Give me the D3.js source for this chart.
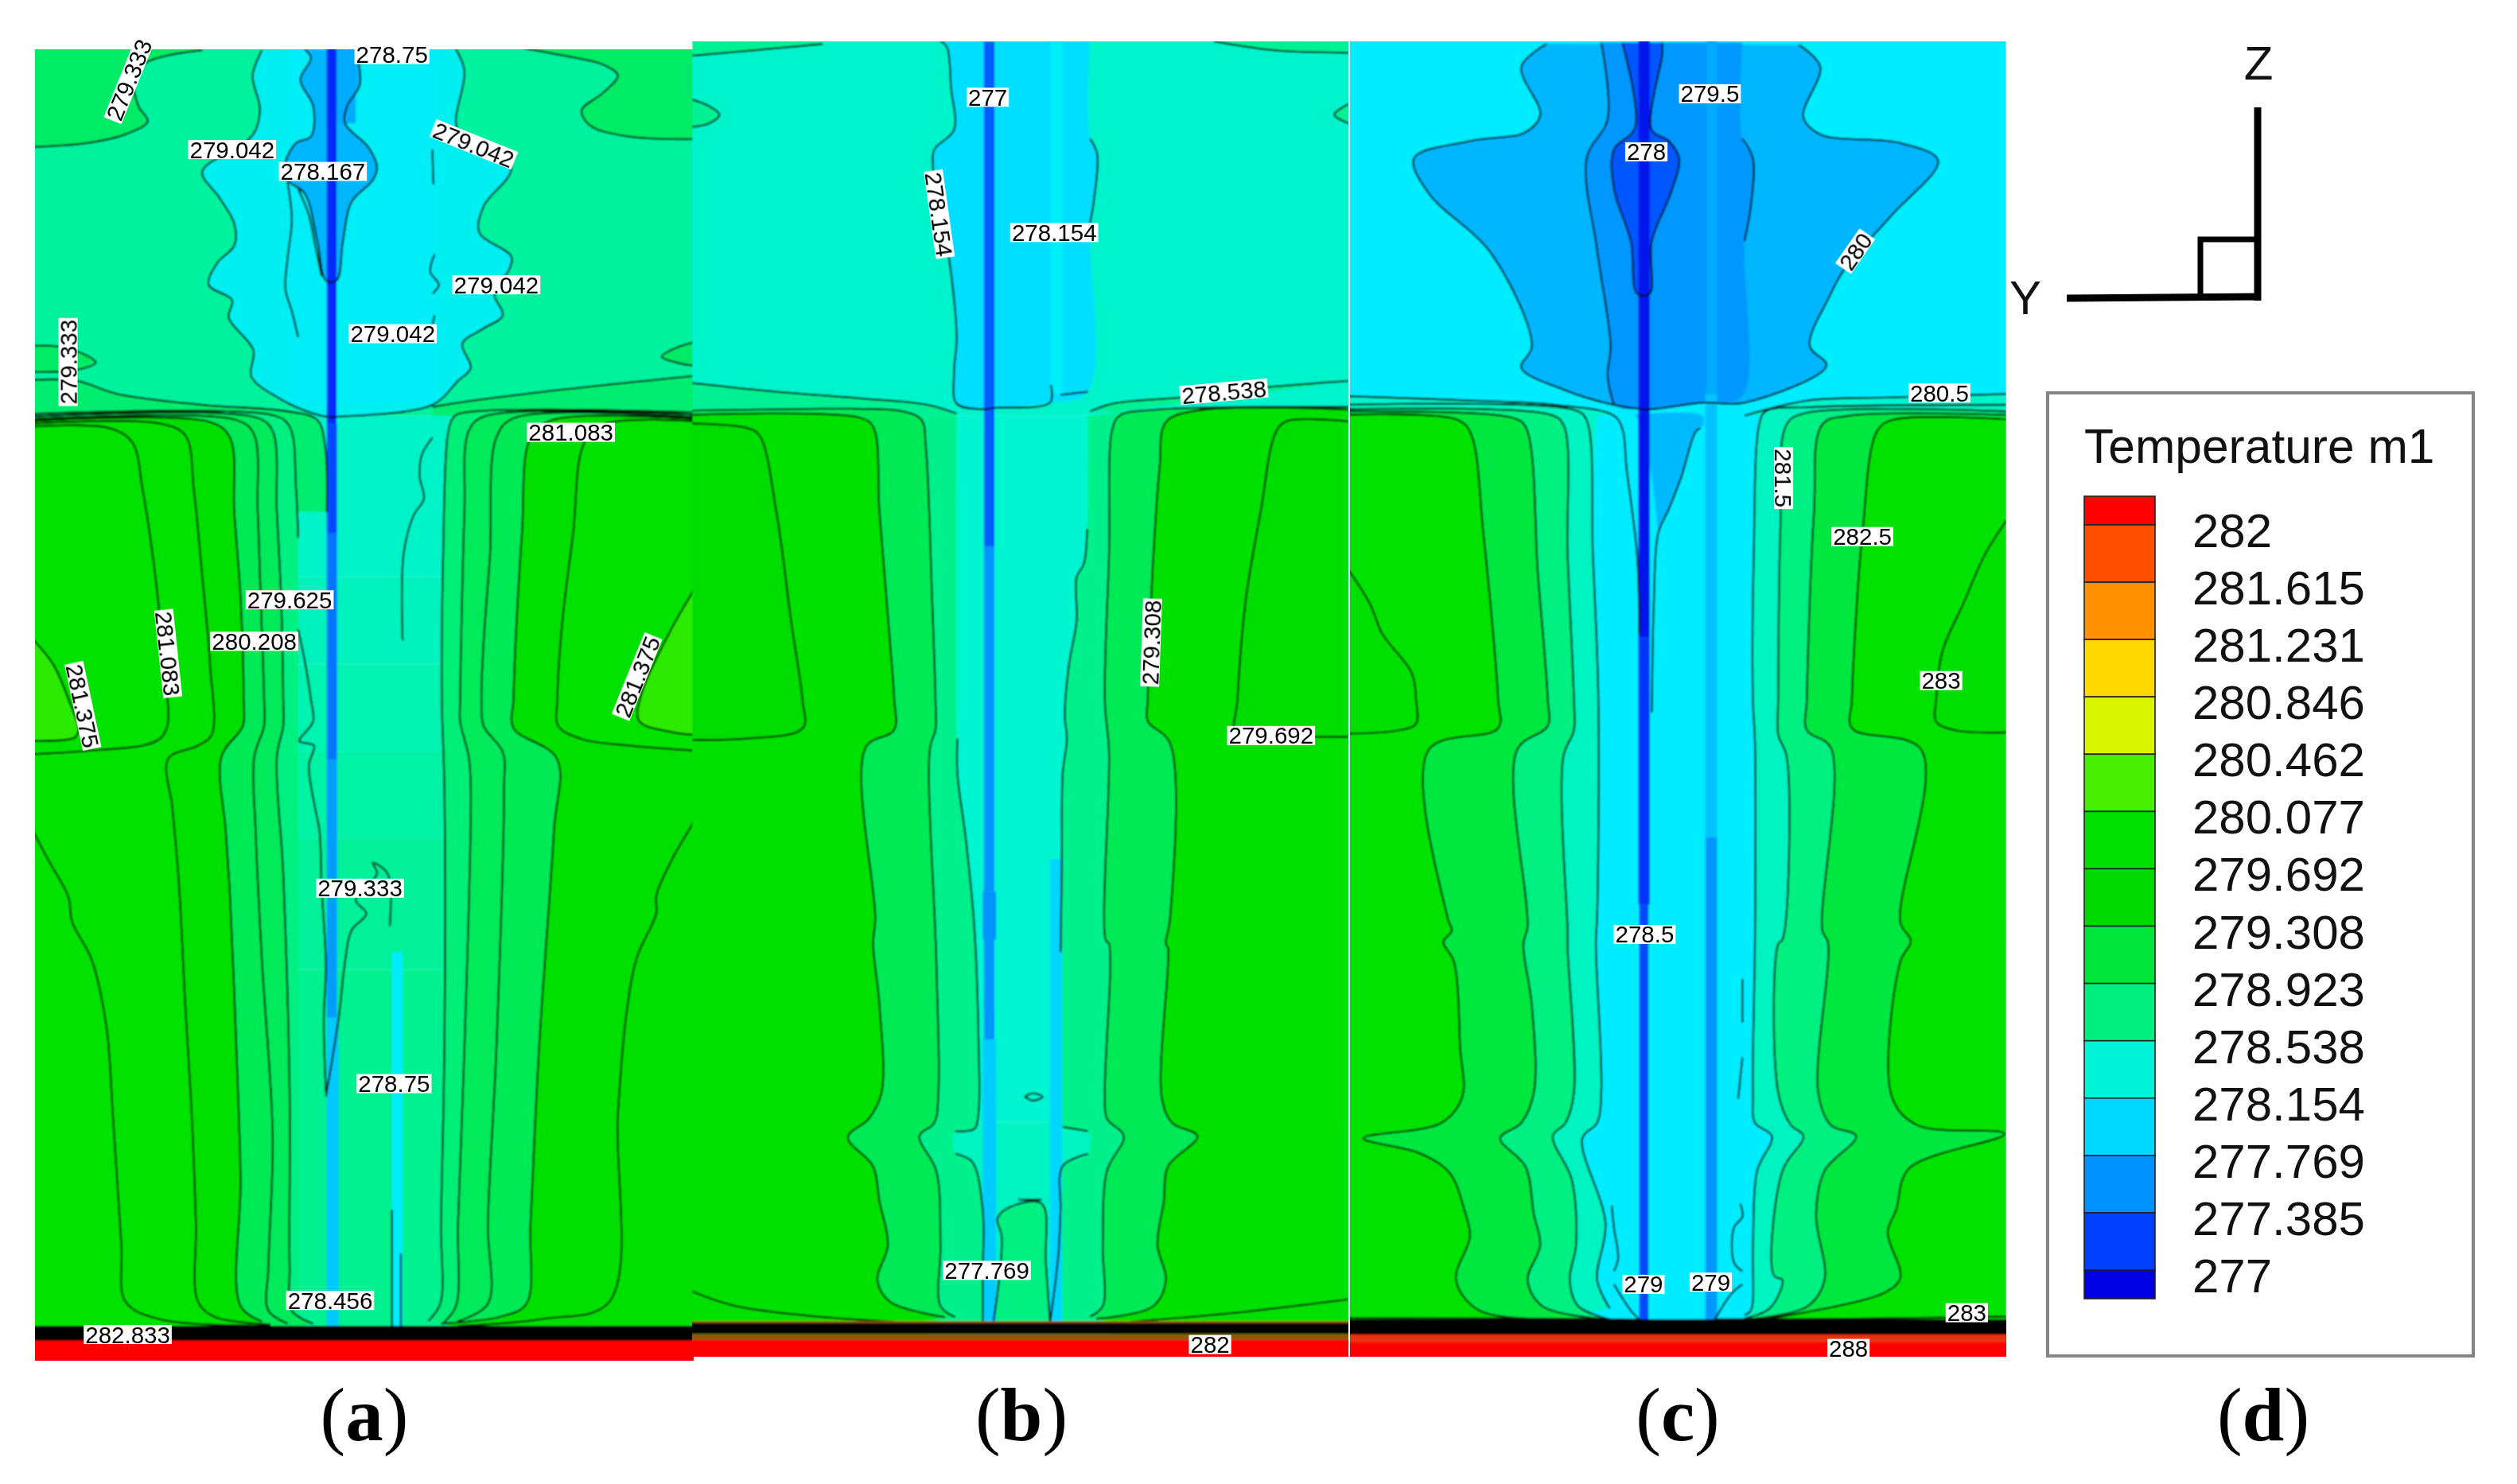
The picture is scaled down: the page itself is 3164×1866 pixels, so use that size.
<!DOCTYPE html>
<html><head><meta charset="utf-8">
<style>html,body{margin:0;padding:0;background:#fff}svg{display:block}</style>
<script src="https://cdn.jsdelivr.net/npm/d3@7"></script></head><body>
<svg id="c" width="3164" height="1866"></svg>
<script>
// ---------- legend ----------
const legendTitle = "Temperature m1";
const legendLevels = ["282","281.615","281.231","280.846","280.462","280.077","279.692","279.308","278.923","278.538","278.154","277.769","277.385","277"];
const swatchColors = ["#ff0000","#ff5000","#ff9000","#ffd800","#d8f400","#48f000","#00e000","#00da00","#00e63c","#00f080","#00f5d8","#00d8ff","#0090ff","#0040ff","#0000e4"];
const tempStops  = [276.9,277.19,277.58,277.96,278.12,278.35,278.73,279.12,279.5,279.88,280.27,280.65,281.04,281.42,281.81,282.1];
const tempColors = ["#0000e4","#0040ff","#0090ff","#00d8ff","#00ecff","#00f5d8","#00f080","#00e63c","#00dc00","#00e300","#48f000","#d8f400","#ffd800","#ff9000","#ff5000","#ff0000"];
const panelCaptions = ["a","b","c","d"];

// ---------- panel (a) : isotherms, in sample coordinates (y, z) ----------
const aTopLeft=[[400,42],[270,70],[240,110],[250,170],[272,205],[220,235],[130,255],[0,264]];
const aTopRight=[[1155,38],[1250,55],[1340,75],[1375,100],[1340,140],[1290,180],[1310,215],[1400,240],[1560,246]];
const aLobeL=[[0,720],[80,724],[150,758],[105,775],[0,780]];
const aLobeR=[[1560,710],[1510,725],[1478,745],[1520,760],[1560,766]];
const aBandL=[[0,798],[105,800],[200,830],[400,855],[600,870],[670,890],[688,950],[692,1100]];
const aBandR=[[1560,788],[1200,825],[1000,850],[940,860]];
const aCore=[[540,42],[518,100],[535,175],[525,225],[500,255],[400,320],[440,380],[475,440],[475,490],[435,530],[415,580],[470,615],[462,655],[520,730],[515,790],[580,840],[640,868],[690,882],[720,882],[940,855],[1000,800],[1030,770],[1010,715],[1060,680],[1105,650],[1085,600],[1120,545],[1125,515],[1050,460],[1060,400],[1125,310],[1000,225],[995,200],[1015,90],[995,40]];
const aBlob=[[640,40],[655,60],[630,110],[660,170],[655,240],[620,255],[595,300],[600,340],[640,370],[670,480],[690,570],[715,570],[730,480],[750,390],[800,340],[810,310],[790,265],[735,210],[740,170],[770,120],[760,40]];
const aW1=[[625,360],[650,420],[665,490],[680,560]];
const aW2=[[600,345],[610,430],[600,520],[595,590],[610,640],[625,700]];
const aW3=[[940,270],[942,350]];
const aW4=[[945,510],[935,550],[955,580],[940,600]];
const aW5=[[945,650],[938,680]];
const aL1=[[0,905],[180,908],[235,940],[260,1050],[290,1250],[310,1450],[318,1591],[300,1621],[260,1636],[130,1648],[0,1656]];
const aL2=[[0,898],[300,898],[360,925],[380,1050],[400,1250],[418,1450],[422,1611],[390,1636],[320,1666],[330,1781],[345,1951],[360,2231],[375,2481],[385,2731],[390,2911],[430,2946],[560,2963]];
const aL3=[[0,892],[420,895],[465,930],[475,1100],[490,1300],[497,1531],[495,1591],[445,1661],[455,1831],[465,1981],[480,2331],[490,2631],[490,2921],[540,2956]];
const aL4=[[0,888],[480,890],[520,920],[530,1100],[537,1300],[545,1531],[545,1591],[522,1661],[525,1831],[540,2131],[565,2531],[555,2831],[555,2931],[600,2961]];
const aL5=[[0,882],[530,885],[565,915],[575,1100],[585,1300],[590,1531],[590,1591],[575,1661],[590,1931],[605,2431],[605,2831],[610,2931],[660,2961]];
const aL6=[[0,876],[570,880],[605,905],[620,1050],[625,1160]];
const aLW=[[625,1370],[640,1440],[655,1531],[660,1581],[628,1626],[662,1636],[650,1681],[665,1781],[675,1831],[680,1961],[690,2141],[685,2261],[690,2431]];
const aRa=[[1560,893],[1340,900],[1295,945],[1270,1150],[1245,1350],[1233,1531],[1235,1591],[1290,1621],[1400,1636],[1560,1648]];
const aRb=[[1560,888],[1220,890],[1170,930],[1150,1150],[1135,1400],[1130,1531],[1130,1596],[1232,1666],[1225,1831],[1190,2331],[1170,2731],[1160,2916],[1100,2945],[960,2961]];
const aRc=[[1560,884],[1130,886],[1090,930],[1075,1200],[1060,1400],[1055,1531],[1060,1591],[1105,1651],[1108,1731],[1090,2331],[1070,2731],[1070,2916],[1000,2955]];
const aRd=[[1560,878],[1060,882],[1025,915],[1015,1100],[1005,1531],[1005,1581],[1025,1661],[1030,1731],[1015,2331],[1000,2731],[995,2921],[965,2960]];
const aRe=[[1560,872],[1000,876],[985,890],[975,930],[965,1200],[962,1531],[968,1731],[968,2331],[960,2731],[958,2916],[930,2955]];
const aRW=[[940,930],[915,970],[910,1020],[920,1070],[895,1110],[872,1200],[870,1395]];
const aLf=[[0,1826],[40,1901],[85,1981],[95,2041],[140,2126],[175,2281],[190,2481],[210,2781],[220,2911],[300,2951],[560,2966]];
const aRf=[[1560,1801],[1500,1901],[1465,1981],[1465,2021],[1420,2121],[1395,2251],[1375,2481],[1355,2911],[1200,2950],[1000,2966]];
const aLobeSL=[[0,1390],[50,1450],[90,1540],[110,1600],[100,1618],[0,1625]];
const aLobeSR=[[1560,1270],[1500,1370],[1430,1520],[1425,1580],[1500,1605],[1560,1612]];
const aPeak=[[840,2050],[835,1930],[800,1905],[810,1930],[760,1990],[785,2021],[750,2060],[735,2130],[720,2260],[690,2440]];
const aStub=[[845,2700],[845,3000]];
const aStub2=[[866,2800],[866,3000]];
const aBlocks=[
 {t:278.6,y:[0,1568],z:[30,880]},{t:278.42,y:[0,1568],z:[880,1250]},{t:278.47,y:[0,1568],z:[1250,1450]},{t:278.52,y:[0,1568],z:[1450,1650]},{t:278.57,y:[0,1568],z:[1650,1850]},{t:278.62,y:[0,1568],z:[1850,2150]},{t:278.66,y:[0,1568],z:[2150,3060]}];
const aRegions=[
 {t:278.88,p:aTopLeft,c:[[0,30],[400,30]]},{t:278.88,p:aTopRight,c:[[1560,30],[1155,30]]},
 {t:278.88,p:aLobeL,c:[]},{t:278.88,p:aLobeR,c:[]},
 {t:278.82,p:aBandL,c:[[692,1100],[0,1100]]},{t:278.82,p:aBandR,c:[[940,880],[1560,880]]},
 {t:278.2,p:aCore,c:[]},
 {t:278.72,p:aL6,c:[[625,3060],[0,3060]]},
 {t:278.78,p:aRe,c:[[1560,3060]]},
 {t:278.95,p:aL5,c:[[0,3060]]},{t:278.98,p:aL4,c:[[0,3060]]},{t:279.7,p:aL3,c:[[0,3060]]},{t:279.88,p:aL2,c:[[0,3060]]},
 {t:278.95,p:aRd,c:[[1560,3060]]},{t:278.98,p:aRc,c:[[1560,3060]]},{t:279.7,p:aRb,c:[[1560,3060]]},
 {t:279.82,p:aL1,c:[]},{t:279.88,p:aRa,c:[]},
 {t:280.12,p:aLobeSL,c:[]},{t:280.12,p:aLobeSR,c:[]},
];
const aCoreBlocks=[{t:278.16,y:[600,950],z:[30,850]}];
const aStems=[
 {t:277.72,y:[690,760],z:[30,210]},
 {t:277.1,y:[692,715],z:[30,900]},{t:277.25,y:[692,716],z:[900,1150]},{t:277.45,y:[692,716],z:[1150,1668]},
 {t:277.65,y:[692,716],z:[1668,2260]},{t:277.88,y:[692,720],z:[2260,2980]},{t:278.12,y:[845,870],z:[2110,2980]}];
const aLines=[aTopLeft,aTopRight,aLobeL,aLobeR,aBandL,aBandR,aCore,aBlob,aW1,aW2,aW3,aW4,aW5,aL1,aL2,aL3,aL4,aL5,aL6,aLW,aRa,aRb,aRc,aRd,aRe,aRW,aLf,aRf,aLobeSL,aLobeSR,aPeak,aStub,aStub2];
const aFloor=[{t:"dense",z:[2966,3002]},{t:282.1,z:[3000,3060]}];
const aTags=[["279.333",228,110,-68],["278.75",845,52,0],["279.042",470,270,0],["278.167",683,320,0],["279.042",1037,258,22],["279.042",1090,580,0],["279.042",847,692,0],["279.333",85,757,-90],["281.083",1265,918,0],["279.625",605,1302,0],["280.208",522,1397,0],["281.083",320,1425,84],["281.375",120,1545,78],["281.375",1420,1478,-68],["279.333",770,1963,0],["278.75",850,2411,0],["278.456",700,2908,0],["282.833",225,2986,0]];

// ---------- panel (b) ----------
const bCornL=[[310,28],[150,42],[0,55]];
const bCornR=[[1240,22],[1380,42],[1560,48]];
const bLobeL=[[0,155],[40,170],[65,190],[40,210],[0,218]];
const bLobeR=[[1560,165],[1525,190],[1560,210]];
const bBandL=[[0,805],[200,825],[400,840],[560,855],[628,875]];
const bBandR=[[945,870],[1000,852],[1160,838],[1360,815],[1560,800]];
const bFar=[[590,22],[605,35],[615,130],[622,225],[575,270],[572,310],[590,430],[610,520],[628,700],[622,780],[628,852],[690,865],[720,862],[850,850],[852,810]];
const bFar2=[[875,832],[940,825]];
const bFar3=[[945,245],[962,280],[955,380],[945,440]];
const bFarFill=[[590,22],[605,35],[615,130],[622,225],[575,270],[572,310],[590,430],[610,520],[628,700],[622,780],[628,852],[690,865],[720,862],[850,850],[940,825],[945,440],[955,380],[962,280],[945,245],[945,22]];
const bA=[[0,898],[130,908],[160,925],[200,1100],[235,1350],[262,1531],[263,1596],[130,1620],[0,1623]];
const bB=[[0,878],[400,885],[430,905],[445,1100],[470,1400],[480,1531],[480,1600],[412,1641],[435,2031],[430,2091],[445,2231],[450,2431],[420,2491],[370,2534],[430,2601],[445,2681],[465,2781],[440,2861],[470,2911],[600,2946]];
const bC=[[0,868],[310,864],[375,864],[500,870],[545,890],[555,950],[570,1300],[578,1531],[578,1600],[565,1641],[580,2131],[585,2431],[575,2501],[540,2531],[580,2611],[590,2781],[590,2921],[625,2946]];
const bW1=[[630,1620],[630,1700],[650,1850],[670,2050],[680,2300],[680,2480],[670,2515],[625,2520]];
const bW2=[[625,2572],[665,2590],[690,2700],[690,2850],[690,2960]];
const bFlankL=[[628,880],[628,1620],[630,1700],[650,1850],[670,2050],[680,2300],[680,2480],[670,2515],[625,2520],[625,2572],[665,2590],[690,2700],[690,3050]];
const bRa=[[1560,893],[1410,893],[1385,920],[1350,1100],[1315,1300],[1295,1531],[1293,1611],[1430,1616],[1560,1616]];
const bRb=[[1560,866],[1200,868],[1125,895],[1110,1000],[1090,1300],[1082,1531],[1082,1580],[1135,1631],[1135,2031],[1125,2091],[1130,2100],[1115,2441],[1140,2501],[1200,2531],[1130,2601],[1120,2681],[1105,2781],[1125,2861],[1095,2921],[960,2950]];
const bRc=[[1560,860],[1100,866],[1015,880],[998,910],[990,1200],[980,1531],[990,1651],[982,2081],[990,2091],[980,2431],[985,2491],[1025,2531],[985,2611],[975,2781],[975,2921],[945,2945]];
const bRd=[[938,1140],[930,1220],[913,1250],[913,1350],[895,1450],[885,1568],[890,1620],[880,1700],[878,1900],[875,2110]];
const bRd2=[[880,2510],[940,2520]];
const bRd3=[[940,2572],[880,2600],[875,2700],[870,2800],[850,2960]];
const bFlankR=[[940,880],[938,1140],[930,1220],[913,1250],[913,1350],[895,1450],[885,1568],[890,1620],[880,1700],[878,1900],[875,2110],[880,2510],[940,2520],[940,2572],[880,2600],[875,2700],[870,2800],[850,3050]];
const bArch=[[715,2960],[730,2850],[735,2760],[725,2721],[750,2696],[830,2686],[840,2820],[850,2960]];
const bDash=[[775,2677],[830,2677]];
const bEgg=[[790,2441],[810,2433],[832,2441],[810,2450],[790,2441]];
const bFloorL=[[0,2887],[100,2920],[300,2945],[560,2960]];
const bFloorR=[[1560,2905],[1300,2935],[1000,2960]];
const bBlocks=[{t:278.4,y:[0,1568],z:[20,880]},{t:278.38,y:[0,1568],z:[880,2500]},{t:278.45,y:[0,1568],z:[2500,3050]}];
const bRegions=[
 {t:278.65,p:bCornL,c:[[0,20],[310,20]]},{t:278.65,p:bCornR,c:[[1560,20],[1240,20]]},
 {t:278.65,p:bLobeL,c:[]},{t:278.65,p:bLobeR,c:[]},
 {t:278.02,p:bFarFill,c:[]},
 {t:278.65,p:bBandL,c:[[628,880],[0,880]]},{t:278.65,p:bBandR,c:[[945,880],[1560,880]]},
 {t:278.68,p:bFlankL,c:[[0,3050],[0,880]]},
 {t:278.68,p:bFlankR,c:[[1560,3050],[1560,880]]},
 {t:278.72,p:bArch,c:[]},
 {t:278.98,p:bC,c:[[0,3050]]},{t:278.98,p:bRc,c:[[1560,3050]]},
 {t:279.75,p:bB,c:[[0,3050]]},{t:279.75,p:bRb,c:[[1560,3050]]},
 {t:279.55,p:bA,c:[]},{t:279.55,p:bRa,c:[]},
 {t:279.78,p:bFloorL,c:[[560,3050],[0,3050]]},{t:279.78,p:bFloorR,c:[[1000,3050],[1560,3050]]},
];
const bStems=[
 {t:278.15,y:[850,880],z:[20,830]},
 {t:277.32,y:[693,718],z:[22,1180]},{t:277.6,y:[693,718],z:[1180,1970]},{t:277.6,y:[690,722],z:[1970,2080]},{t:277.6,y:[693,718],z:[2080,2310]},
 {t:277.9,y:[690,722],z:[2310,2968]},{t:277.95,y:[850,878],z:[1896,2968]}];
const bLines=[bCornL,bCornR,bLobeL,bLobeR,bBandL,bBandR,bFar,bFar2,bFar3,bA,bB,bC,bW1,bW2,bRa,bRb,bRc,bRd,bRd2,bRd3,bArch,bDash,bEgg,bFloorL,bFloorR];
const bFloor=[{t:"warm",z:[2955,2972]},{t:"dense",z:[2960,2985]},{t:"warm",z:[2985,3000]},{t:282.1,z:[2998,3050]}];
const bTags=[["277",702,150,0],["278.154",587,418,82],["278.154",860,460,0],["278.538",1263,825,-5],["279.308",1090,1400,-88],["279.692",1375,1613,0],["277.769",700,2839,0],["282",1230,3009,0]];

// ---------- panel (c) ----------
const cWide=[[480,28],[420,80],[465,190],[430,230],[300,250],[165,290],[200,370],[350,510],[445,720],[420,770],[520,820],[640,855],[720,865],[850,850],[950,850],[1145,765],[1105,720],[1150,610],[1190,540],[1300,420],[1410,295],[1320,255],[1130,235],[1090,195],[1130,80],[1080,30]];
const cDeep=[[660,25],[690,220],[640,270],[640,360],[680,480],[695,600],[725,600],[730,480],[775,370],[795,290],[770,250],[730,225],[755,50],[755,25]];
const cCol=[[610,25],[625,200],[575,290],[600,500],[632,720],[625,790],[640,855]];
const cColR=[[945,245],[970,290],[965,400],[950,480]];
const cColFill=[[610,25],[625,200],[575,290],[600,500],[632,720],[625,790],[640,855],[720,865],[860,850],[945,835],[950,480],[965,400],[970,290],[945,245],[945,25]];
const cWedge=[[665,880],[850,880],[850,905],[835,915],[800,1020],[770,1095],[745,1150],[735,1300],[725,1568],[695,1568],[670,1000]];
const cWedgeL=[[845,910],[835,915],[800,1020],[770,1095],[745,1150],[735,1300],[730,1560]];
const cBandTop=[[0,835],[300,845],[500,855],[640,880],[660,910],[670,1000],[695,1200],[700,1380]];
const cBandR=[[1572,830],[1300,838],[1100,845],[950,880]];
const cLobeL=[[0,1220],[60,1310],[90,1380],[160,1470],[170,1531],[170,1586],[130,1601],[0,1609]];
const cLobeR=[[1572,1120],[1520,1200],[1470,1310],[1420,1420],[1405,1531],[1405,1581],[1450,1601],[1572,1606]];
const cA=[[0,878],[270,890],[300,920],[330,1150],[365,1531],[365,1596],[200,1646],[245,2031],[255,2061],[235,2086],[260,2131],[275,2331],[280,2441],[230,2501],[45,2536],[180,2571],[250,2616],[285,2701],[298,2761],[265,2861],[320,2931],[520,2951]];
const cB=[[0,870],[400,885],[430,905],[460,1250],[483,1531],[483,1591],[410,1646],[435,2051],[425,2091],[445,2231],[450,2431],[420,2501],[370,2536],[430,2601],[450,2711],[465,2781],[435,2861],[470,2921],[620,2951]];
const cC=[[0,865],[490,878],[520,900],[530,1200],[545,1531],[545,1601],[520,1661],[530,2061],[530,2101],[545,2431],[525,2501],[495,2531],[540,2631],[550,2781],[535,2861],[555,2921],[630,2951]];
const cD=[[0,855],[550,868],[575,890],[590,1200],[603,1531],[600,2031],[597,2086],[610,2431],[600,2501],[565,2536],[620,2731],[600,2861],[630,2926]];
const cRa=[[1572,888],[1300,890],[1265,915],[1230,1150],[1205,1531],[1205,1596],[1370,1646],[1320,2041],[1345,2084],[1320,2131],[1300,2441],[1360,2506],[1568,2526],[1340,2606],[1310,2701],[1290,2751],[1320,2856],[1280,2891],[1000,2951]];
const cRb=[[1572,878],[1200,880],[1135,900],[1115,1100],[1098,1531],[1098,1601],[1155,1641],[1135,2061],[1148,2086],[1125,2431],[1155,2506],[1215,2531],[1140,2611],[1120,2711],[1140,2861],[1100,2921],[960,2951]];
const cRc=[[1572,870],[1090,875],[1050,900],[1035,1150],[1030,1531],[1030,1611],[1050,1661],[1040,2081],[1030,2091],[1030,2431],[1060,2506],[1090,2531],[1040,2611],[1020,2851],[1040,2861],[1010,2926],[950,2949]];
const cRd=[[1572,855],[1120,860],[1000,870],[985,900],[972,1200],[970,1531],[975,1631],[975,2071],[970,2431],[975,2501],[1015,2531],[980,2611],[970,2781],[965,2931],[950,2941]];
const cW1=[[945,2171],[945,2271]];
const cW2=[[945,2351],[935,2446]];
const cW3=[[940,2686],[945,2716],[925,2741],[925,2821],[945,2841]];
const cW4=[[635,2691],[640,2741],[650,2811],[640,2841]];
const cW5=[[640,2871],[680,2931],[705,2956]];
const cW6=[[945,2871],[920,2891],[880,2951]];
const cFloorL=[[0,2948],[500,2950],[700,2952]];
const cFloorR=[[1572,2945],[1200,2950],[880,2951]];
const cCentre=[[625,880],[690,880],[690,3050],[600,3050],[600,880]];
const cBlocks=[{t:278.12,y:[0,1572],z:[20,3050]}];
const cRegions=[
 {t:277.78,p:cWide,c:[]},
 {t:277.62,p:cColFill,c:[]},
 {t:277.3,p:cDeep,c:[]},
 {t:277.8,p:cWedge,c:[]},
 {t:278.4,p:cBandTop,c:[[700,1380],[0,1380]]},
 {t:278.4,p:cBandR,c:[[950,880],[1572,880]]},
 {t:278.12,p:cCentre,c:[]},
 {t:278.45,p:cD,c:[[0,3050]]},{t:278.45,p:cRd,c:[[1572,3050]]},
 {t:278.72,p:cC,c:[[0,3050]]},{t:278.72,p:cRc,c:[[1572,3050]]},
 {t:279.1,p:cB,c:[[0,3050]]},{t:279.1,p:cRb,c:[[1572,3050]]},
 {t:279.88,p:cA,c:[[0,3050]]},{t:279.88,p:cRa,c:[[1572,3050]]},
 {t:279.7,p:cLobeL,c:[]},{t:279.7,p:cLobeR,c:[]},
];
const cStems=[
 {t:277.72,y:[860,885],z:[20,830]},
 {t:277.0,y:[698,725],z:[20,1390]},{t:277.14,y:[698,725],z:[1390,2000]},{t:277.24,y:[700,722],z:[2000,2968]},
 {t:277.85,y:[857,885],z:[830,1846]},{t:277.62,y:[857,885],z:[1846,2968]}];
const cLines=[cWide,cDeep,cCol,cColR,cWedgeL,cBandTop,cBandR,cLobeL,cLobeR,cA,cB,cC,cD,cRa,cRb,cRc,cRd,cW1,cW2,cW3,cW4,cW5,cW6,cFloorL,cFloorR];
const cFloor=[{t:"dense",z:[2951,2988]},{t:"hot",z:[2986,3006]},{t:282.1,z:[3004,3050]}];
const cTags=[["279.5",868,142,0],["278",717,275,0],["280",1213,503,-55],["280.5",1413,828,0],["281.5",1043,1023,90],["282.5",1230,1157,0],["283",1417,1487,0],["278.5",713,2069,0],["279",710,2871,0],["279",870,2866,0],["283",1478,2936,0],["288",1197,3018,0]];

// ---------- drawing ----------
const svg=d3.select("#c");
const defs=svg.append("defs");
defs.append("filter").attr("id","soft").attr("x","-5%").attr("y","-5%").attr("width","110%").attr("height","110%")
  .append("feGaussianBlur").attr("stdDeviation",0.9);
defs.append("filter").attr("id","softT").attr("x","-20%").attr("y","-60%").attr("width","140%").attr("height","220%")
  .append("feGaussianBlur").attr("stdDeviation",0.7);
svg.append("rect").attr("width",3164).attr("height",1866).attr("fill","#fff");
const tempColor=d3.scaleLinear().domain(tempStops).range(tempColors).clamp(true);
const floorColor={dense:"#000",warm:"#8a5a10",hot:"#e8300a"};
const zScale=d3.scaleLinear().domain([0,3099]).range([40,1740]);

function drawPanel(id,xRange,clip,blocks,regions,coreBlocks,stems,lines,floor,tags){
  const xs=d3.scaleLinear().domain([0,1568]).range(xRange);
  const smooth=d3.line().x(d=>xs(d[0])).y(d=>zScale(d[1])).curve(d3.curveCatmullRom.alpha(0.5));
  const g0=svg.append("g");
  const cp=defs.append("clipPath").attr("id","clip"+id);
  cp.append("rect").attr("x",clip[0]).attr("y",clip[1]).attr("width",clip[2]-clip[0]).attr("height",clip[3]-clip[1]);
  const g=g0.append("g").attr("clip-path",`url(#clip${id})`).append("g").attr("filter","url(#soft)");
  const rects=(arr)=>g.append("g").selectAll("rect").data(arr).join("rect")
    .attr("x",d=>xs(d.y[0])).attr("width",d=>xs(d.y[1])-xs(d.y[0]))
    .attr("y",d=>zScale(d.z[0])).attr("height",d=>zScale(d.z[1])-zScale(d.z[0]))
    .attr("fill",d=>tempColor(d.t));
  rects(blocks);
  g.append("g").selectAll("path").data(regions).join("path")
    .attr("d",d=>smooth(d.p)+d.c.map(q=>`L${xs(q[0])},${zScale(q[1])}`).join("")+
       (d.c.length&&d.p[0]?`L${xs(d.p[0][0])},${zScale(d.p[0][1])}`:"")+"Z")
    .attr("fill",d=>tempColor(d.t));
  if(coreBlocks.length) rects(coreBlocks);
  if(id==="a"){ g.append("path").attr("d",smooth(aBlob)+"Z").attr("fill",tempColor(277.78)); }
  rects(stems);
  g.append("g").selectAll("path").data(lines).join("path")
    .attr("d",d=>smooth(d)).attr("fill","none").attr("stroke","#000e04").attr("stroke-width",2.3);
  g.append("g").selectAll("rect").data(floor).join("rect")
    .attr("x",xs(-20)).attr("width",xs(1600)-xs(-20))
    .attr("y",d=>zScale(d.z[0])).attr("height",d=>zScale(d.z[1])-zScale(d.z[0]))
    .attr("fill",d=>floorColor[d.t]||tempColor(d.t));
  const t=g0.append("g").attr("filter","url(#softT)").selectAll("g").data(tags).join("g")
    .attr("transform",d=>`translate(${xs(d[1])},${zScale(d[2])}) rotate(${d[3]})`);
  const rectsT=t.append("rect").attr("fill","#fff").attr("y",-12).attr("height",24);
  const txt=t.append("text").text(d=>d[0]).attr("text-anchor","middle").attr("y",10.5)
    .attr("font-family","'Liberation Sans',Arial,sans-serif").attr("font-size",29.5).attr("fill","#000");
  txt.each(function(d,i){const w=this.getComputedTextLength()+4;d3.select(rectsT.nodes()[i]).attr("x",-w/2).attr("width",w);});
}
drawPanel("a",[40,880],[44,62,872,1711],aBlocks,aRegions,aCoreBlocks,aStems,aLines,aFloor,aTags);
drawPanel("b",[870,1700],[870,52,1695,1706],bBlocks,bRegions,[],bStems,bLines,bFloor,bTags);
drawPanel("c",[1690,2520],[1697,52,2522,1706],cBlocks,cRegions,[],cStems,cLines,cFloor,cTags);

// legend
const sans="'Liberation Sans',Arial,sans-serif";
const lg=svg.append("g");
lg.append("rect").attr("x",2574).attr("y",494).attr("width",535).attr("height",1211).attr("fill","#fff").attr("stroke","#858585").attr("stroke-width",4);
lg.append("text").text(legendTitle).attr("x",2620).attr("y",582).attr("font-family",sans).attr("font-size",60.5).attr("fill","#111");
const ly=d3.scalePoint().domain(legendLevels).range([660,1597]);
const step=ly.step();
lg.append("g").selectAll("rect").data(swatchColors).join("rect")
  .attr("x",2620).attr("width",89)
  .attr("y",(d,i)=>i===0?624:ly(legendLevels[i-1]))
  .attr("height",(d,i)=>i===0||i===legendLevels.length?36:step)
  .attr("fill",d=>d).attr("stroke","#222").attr("stroke-width",1.6);
lg.append("g").selectAll("text").data(legendLevels).join("text").text(d=>d)
  .attr("x",2756).attr("y",d=>ly(d)+28).attr("font-family",sans).attr("font-size",60).attr("fill","#111");

// triad
const tr=svg.append("g").attr("stroke","#000").attr("fill","none").attr("stroke-linecap","butt");
tr.append("line").attr("x1",2838).attr("x2",2838).attr("y1",135).attr("y2",378).attr("stroke-width",9);
tr.append("line").attr("x1",2598).attr("x2",2842).attr("y1",375).attr("y2",373).attr("stroke-width",9);
tr.append("path").attr("d","M2766,374V301H2838").attr("stroke-width",7);
svg.append("text").text("Z").attr("x",2839).attr("y",100).attr("text-anchor","middle").attr("font-family",sans).attr("font-size",60).attr("fill","#111");
svg.append("text").text("Y").attr("x",2546).attr("y",395).attr("text-anchor","middle").attr("font-family",sans).attr("font-size",60).attr("fill","#111");

// captions
const capPos={a:458,b:1284,c:2109,d:2845};
const cap=svg.append("g").selectAll("text").data(panelCaptions).join("text")
  .attr("x",d=>capPos[d]).attr("y",1811).attr("text-anchor","middle").attr("font-family","'Liberation Serif','Times New Roman',serif").attr("font-size",95).attr("fill","#000");
cap.append("tspan").text("(");
cap.append("tspan").attr("font-weight","bold").text(d=>d);
cap.append("tspan").text(")");
</script></body></html>
